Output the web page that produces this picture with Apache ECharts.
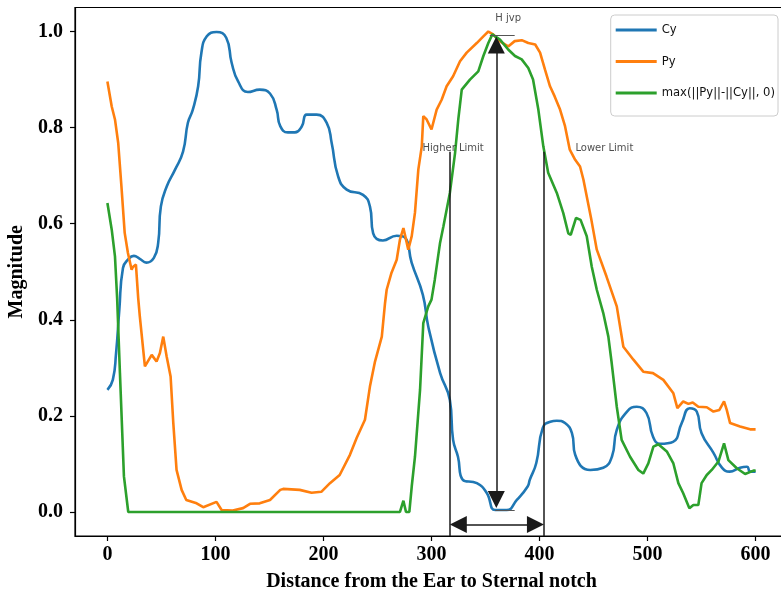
<!DOCTYPE html>
<html><head><meta charset="utf-8">
<script src="https://cdn.jsdelivr.net/npm/echarts@6/dist/echarts.min.js"></script>
<style>html,body{margin:0;padding:0;background:#fff}#c{width:781px;height:596px}</style>
</head><body><div id="c"></div>
<script>
// ---- data ----
const seriesNames = ['Cy', 'Py', 'max(||Py||-||Cy||, 0)'];
const xTicks = [0, 100, 200, 300, 400, 500, 600];
const yTicks = [0.0, 0.2, 0.4, 0.6, 0.8, 1.0];

const cyData = [
 [0,0.254],[5,0.275],[8,0.33],[11,0.42],[14.4,0.508],[19,0.525],[24.5,0.533],[30,0.527],[36,0.519],[43,0.529],[47,0.56],[49.5,0.636],
 [55,0.678],[62.5,0.712],[70,0.75],[74.5,0.81],[79,0.837],[84,0.886],[87,0.956],[92,0.99],[101,0.999],[110,0.987],
 [115,0.935],[121,0.896],[130,0.874],[141,0.879],[150.5,0.871],[156.7,0.837],[160,0.803],[167,0.79],[173.6,0.79],
 [180,0.803],[184.4,0.827],[193.7,0.827],[203,0.81],[207.6,0.768],[213.5,0.699],[221.5,0.671],[236.6,0.66],[243,0.636],
 [246,0.58],[255,0.565],[267.8,0.575],[275.5,0.571],[281.6,0.519],[292,0.452],[297,0.386],[308,0.289],[317,0.233],
 [320,0.15],[324.5,0.115],[329,0.067],[342,0.06],[351,0.04],[359,0.004],[369.6,0.004],[379,0.025],[389,0.053],
 [391,0.067],[397,0.102],[403,0.175],[410,0.188],[416,0.19],[423.6,0.185],[430,0.164],[433,0.119],[447,0.0875],
 [459,0.092],[467,0.115],[471.5,0.171],[481,0.209],[490,0.219],[499,0.206],[505,0.157],[511.6,0.142],[523.6,0.146],
 [531.6,0.185],[539,0.216],[545.5,0.209],[550,0.164],[561,0.123],[569,0.092],[576,0.084],[585.6,0.092],[592,0.094],
 [595,0.084],[600,0.084]
];
const pyData = [
 [0,0.896],[4,0.844],[7,0.817],[10,0.768],[13,0.677],[16,0.581],[19,0.539],[22.4,0.504],[23.6,0.51],[26.4,0.515],
 [28.5,0.445],[30,0.407],[34.7,0.303],[41,0.327],[45.5,0.313],[48.6,0.331],[51.7,0.365],[54.8,0.324],[58.5,0.282],
 [61,0.185],[64,0.0875],[68.7,0.046],[73,0.025],[82.6,0.018],[88.7,0.01],[101,0.021],[105.7,0.004],[116,0.003],
 [125.6,0.008],[132,0.017],[141,0.018],[150.5,0.025],[160,0.046],[162.7,0.048],[178,0.046],[189,0.04],[198,0.042],
 [206,0.06],[215,0.077],[224.5,0.119],[230.7,0.154],[238.4,0.192],[243,0.261],[247.7,0.313],[254,0.365],[257,0.435],
 [258.5,0.4625],[263,0.498],[267.8,0.525],[270.8,0.567],[274,0.591],[278.5,0.546],[281.7,0.574],[284.7,0.623],
 [287.8,0.7125],[291,0.761],[292.4,0.824],[295.5,0.817],[300,0.796],[304.8,0.8375],[309.4,0.858],[314,0.886],
 [320,0.907],[326.4,0.938],[332.6,0.956],[341.9,0.976],[348,0.99],[352.6,1.0],[357,0.994],[363,0.98],[371,0.969],
 [377,0.98],[383.5,0.982],[389.6,0.976],[396,0.973],[400.5,0.956],[405,0.921],[409.7,0.886],[414,0.865],[419,0.8375],
 [423.6,0.803],[428,0.754],[433,0.733],[437.5,0.719],[440.6,0.692],[448,0.608],[453,0.546],[462,0.49],[471.5,0.428],
 [477.6,0.344],[486.9,0.317],[496,0.292],[505,0.289],[514.6,0.275],[523.9,0.247],[527.6,0.216],[533,0.23],
 [537.8,0.225],[541.8,0.228],[547,0.219],[554.8,0.218],[561,0.209],[566.5,0.2125],[570.8,0.23],[573.3,0.2125],
 [576.4,0.185],[585.6,0.178],[594.9,0.172],[600,0.172]
];
const gData = [
 [0,0.643],[4,0.5875],[7,0.532],[9,0.445],[11.6,0.289],[15.3,0.074],[19.3,0.0],[270.8,0.0],[274,0.0235],[276.4,0.0],
 [279.5,0.0],[281.7,0.053],[284.7,0.115],[289.4,0.254],[292.4,0.393],[297,0.428],[300,0.442],[303,0.483],[307.9,0.56],
 [311,0.594],[317,0.664],[321.8,0.747],[324.8,0.817],[328,0.879],[335.6,0.9],[343.3,0.917],[348,0.949],[352.6,0.976],
 [356.3,0.994],[363.4,0.983],[371,0.9625],[377.3,0.949],[383.5,0.942],[389.6,0.924],[394,0.9],[398.9,0.8375],
 [403.5,0.761],[408,0.706],[416,0.664],[422,0.622],[426.6,0.58],[428.9,0.577],[433.8,0.612],[438,0.608],[443.7,0.574],
 [448.3,0.511],[453,0.4625],[459,0.414],[463.7,0.365],[466.8,0.31],[471.5,0.219],[476,0.15],[483.8,0.115],
 [491.5,0.0875],[496,0.08],[500.7,0.101],[505.4,0.136],[510,0.141],[517.8,0.126],[523.9,0.101],[528.5,0.06],
 [533,0.039],[538.7,0.0077],[542.4,0.0146],[547,0.0146],[550,0.06],[554.8,0.077],[559.4,0.0875],[565.6,0.105],
 [570.8,0.143],[574.8,0.108],[582.6,0.091],[590.3,0.079],[598,0.086],[600,0.086]
];
// annotation anchors (data coordinates)
const higherLimitX = 317, lowerLimitX = 404, limitTopY = 0.75;
const jvpX = 360, jvpTopY = 0.99, jvpBottomY = 0.008;
const spanY = -0.026;
const annotTexts = [
 {name: 'H jvp', value: [371, 1.027]},
 {name: 'Higher Limit', value: [320, 0.756]},
 {name: 'Lower Limit', value: [460, 0.756]}
];

const colors = ['#1f77b4', '#ff7f0e', '#2ca02c'];
const serif = '"Liberation Serif","Times New Roman",serif';
const sans = '"DejaVu Sans",sans-serif';
const ink = '#1a1a1a';

const chart = echarts.init(document.getElementById('c'), null, {renderer: 'canvas'});
const lineSeries = (name, data, i, smooth) => ({
  name, type: 'line', data, showSymbol: false, symbol: 'none',
  smooth: smooth,
  lineStyle: {color: colors[i], width: 2.6}, itemStyle: {color: colors[i]},
  z: 2 + i, animation: false
});
const headSize = [17, 17];
chart.setOption({
  animation: false,
  grid: {left: 75, width: 713, top: 7.5, bottom: 60, outerBoundsMode: 'none', containLabel: false,
         show: true, borderColor: '#000', borderWidth: 1.2, backgroundColor: 'transparent'},
  legend: {
    orient: 'vertical', right: 3, top: 15,
    data: seriesNames.map((n, i) => ({name: n, icon: 'rect'})),
    itemWidth: 41, itemHeight: 3, itemGap: 19.5,
    padding: [9, 3, 17, 5],
    borderColor: '#cccccc', borderWidth: 1, borderRadius: 4, backgroundColor: 'rgba(255,255,255,0.8)',
    textStyle: {fontFamily: sans, fontSize: 11.6, color: '#111', padding: [0, 0, 0, 0]}
  },
  xAxis: {
    type: 'value', min: -30, max: 630,
    name: 'Distance from the Ear to Sternal notch', nameLocation: 'middle', nameGap: 36,
    nameTextStyle: {fontFamily: serif, fontWeight: 'bold', fontSize: 20, color: '#000'},
    axisLine: {show: true, onZero: false, lineStyle: {color: '#000', width: 1.2}},
    axisTick: {show: true, inside: false, length: 5, customValues: xTicks, lineStyle: {color: '#000', width: 1.2}},
    axisLabel: {customValues: xTicks, fontFamily: serif, fontWeight: 'bold', fontSize: 20, color: '#000', margin: 9},
    splitLine: {show: false}
  },
  yAxis: {
    type: 'value', min: -0.05, max: 1.05,
    name: 'Magnitude', nameLocation: 'middle', nameGap: 47, nameRotate: 90,
    nameTextStyle: {fontFamily: serif, fontWeight: 'bold', fontSize: 20, color: '#000'},
    axisLine: {show: true, onZero: false, lineStyle: {color: '#000', width: 1.2}},
    axisTick: {show: true, inside: false, length: 5, customValues: yTicks, lineStyle: {color: '#000', width: 1.2}},
    axisLabel: {customValues: yTicks, formatter: v => v.toFixed(1), fontFamily: serif, fontWeight: 'bold', fontSize: 20, color: '#000', margin: 12},
    splitLine: {show: false}
  },
  series: [
    lineSeries(seriesNames[0], cyData, 0, 0.5),
    lineSeries(seriesNames[1], pyData, 1, false),
    lineSeries(seriesNames[2], gData, 2, false),
    {
      name: 'annot', type: 'line', data: [], symbol: 'none', z: 10, silent: true,
      markLine: {
        silent: true, animation: false, label: {show: false},
        lineStyle: {color: ink, width: 1.5, type: 'solid'},
        symbol: ['none', 'none'],
        data: [
          [{coord: [higherLimitX, limitTopY]}, {coord: [higherLimitX, -0.05]}],
          [{coord: [lowerLimitX, limitTopY]}, {coord: [lowerLimitX, -0.05]}],
          [{coord: [jvpX - 6, jvpTopY + 0.002], lineStyle: {color: '#555', width: 1}}, {coord: [jvpX + 17, jvpTopY + 0.002]}],
          [{coord: [jvpX - 1, jvpBottomY - 0.005], lineStyle: {color: '#555', width: 1}}, {coord: [jvpX + 17, jvpBottomY - 0.005]}],
          [{coord: [jvpX, jvpTopY - 0.018], symbol: 'triangle', symbolSize: headSize}, {coord: [jvpX, jvpBottomY + 0.018], symbol: 'triangle', symbolSize: headSize}],
          [{coord: [higherLimitX + 7.8, spanY], symbol: 'triangle', symbolSize: headSize}, {coord: [lowerLimitX - 7.8, spanY], symbol: 'triangle', symbolSize: headSize}]
        ]
      }
    },
    {
      name: 'labels', type: 'scatter', data: annotTexts, symbolSize: 1, z: 11, silent: true,
      itemStyle: {color: 'rgba(0,0,0,0)'},
      label: {show: true, position: 'inside', formatter: p => p.name, fontFamily: sans, fontSize: 10, color: '#222'}
    }
  ]
});
</script></body></html>
